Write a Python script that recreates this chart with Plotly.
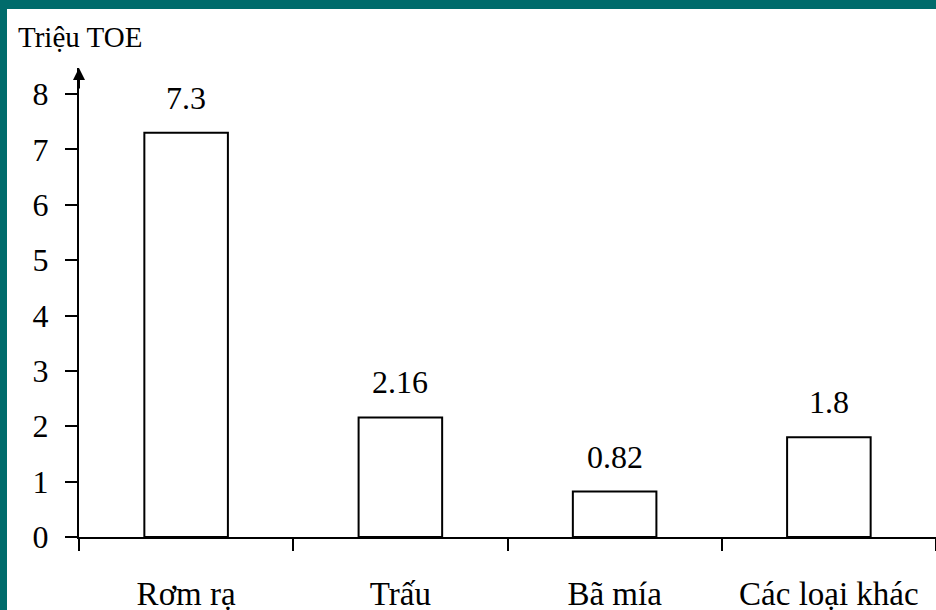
import plotly.graph_objects as go

loai = ["Rơm rạ", "Trấu", "Bã mía", "Các loại khác"]
trieu_toe = [7.3, 2.16, 0.82, 1.8]
nhan = ["7.3", "2.16", "0.82", "1.8"]
vach_y = [0, 1, 2, 3, 4, 5, 6, 7, 8]

font_chu = "Liberation Serif, Times New Roman, serif"
mau_vien = "#006b6b"

fig = go.Figure(go.Bar(
    x=loai,
    y=trieu_toe,
    width=0.39,
    marker=dict(color="white", line=dict(color="black", width=2)),
    hoverinfo="x+y",
))

# nhan gia tri tren cot
for ten, gt, chu in zip(loai, trieu_toe, nhan):
    fig.add_annotation(x=ten, y=gt, text=chu, showarrow=False,
                       yanchor="middle", yshift=35,
                       font=dict(family=font_chu, size=32, color="black"))

# mui ten truc y
fig.add_annotation(x=0, y=1, xref="paper", yref="paper", text="",
                   showarrow=True, ax=0, ay=22, arrowhead=2,
                   arrowsize=1.2, arrowwidth=2, arrowcolor="black")

fig.add_annotation(x=0, y=1, xref="paper", yref="paper", text="Triệu TOE",
                   showarrow=False, xanchor="left", yanchor="middle",
                   xshift=-63, yshift=31,
                   font=dict(family=font_chu, size=29, color="black"))

# khung mau xanh (tren va trai)
fig.add_shape(type="rect", xref="paper", yref="paper",
              xsizemode="pixel", xanchor=0, x0=-90, x1=-72, y0=-1, y1=2,
              fillcolor=mau_vien, line=dict(width=0), layer="above")
fig.add_shape(type="rect", xref="paper", yref="paper",
              ysizemode="pixel", yanchor=1, y0=59, y1=80, x0=-1, x1=2,
              fillcolor=mau_vien, line=dict(width=0), layer="above")

fig.update_layout(
    width=936, height=610,
    margin=dict(l=79, r=0, t=68, b=73, autoexpand=False),
    paper_bgcolor="white", plot_bgcolor="white",
    showlegend=False,
    font=dict(family=font_chu, color="black"),
    xaxis=dict(
        range=[-0.5, 3.5], showgrid=False, zeroline=False,
        showline=True, linecolor="black", linewidth=2,
        ticks="outside", tickson="boundaries", ticklen=12,
        tickwidth=2, tickcolor="black", automargin=False,
        ticklabelstandoff=26,
        tickfont=dict(family=font_chu, size=33, color="black"),
    ),
    yaxis=dict(
        range=[0, 8.47], showgrid=False, zeroline=False,
        showline=True, linecolor="black", linewidth=2,
        tickvals=vach_y, ticks="outside", ticklen=12,
        tickwidth=2, tickcolor="black", automargin=False,
        ticklabelstandoff=10,
        tickfont=dict(family=font_chu, size=32, color="black"),
    ),
)

fig.write_html("out.html", config={"displayModeBar": False},
               post_script="document.body.style.margin='0';document.body.style.overflow='hidden';")
